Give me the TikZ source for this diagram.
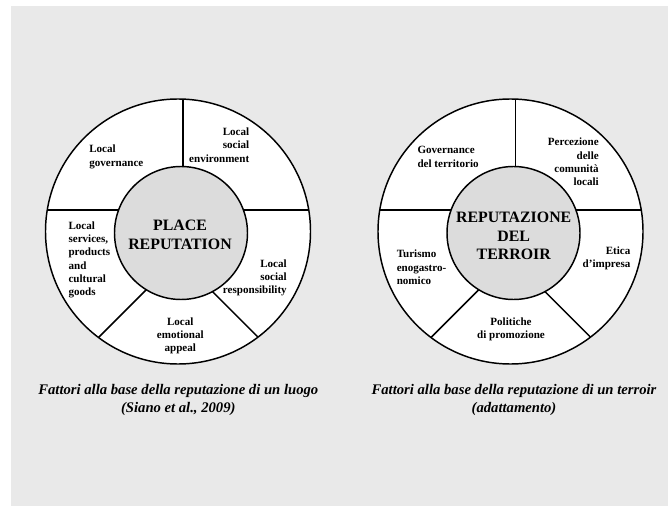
\documentclass[tikz,border=0pt]{standalone}
\usepackage{fontspec}
\setmainfont{Liberation Serif}
\definecolor{bggray}{HTML}{E9E9E9}
\definecolor{hubgray}{HTML}{DCDCDC}
\begin{document}
\begin{tikzpicture}[x=0.75pt,y=-0.75pt,
  ring/.style={draw=black,line width=1.1pt},
  small/.style={font=\fontsize{8.3}{10}\selectfont\bfseries,inner sep=0pt},
  hub/.style={font=\fontsize{11.9}{14}\selectfont\bfseries,inner sep=0pt,align=center},
  caption/.style={font=\fontsize{11}{13}\selectfont\bfseries\itshape,inner sep=0pt,align=center}]
\useasboundingbox (0,0) rectangle (668,506);
\fill[white] (0,0) rectangle (668,506);
\fill[bggray] (11,6) rectangle (668,506);
% ---------- wheels ----------
\foreach \cx in {178,510.5}{
\begin{scope}[shift={(\cx,0)}]
  \filldraw[ring,fill=white] (0,231.5) circle (132.5);
  \filldraw[ring,fill=hubgray] (3,233) circle (66.5);
  \draw[ring] (5,99.1) -- (5,166.5);
  \draw[ring] (-130.7,210) -- (-59.4,210);
  \draw[ring] (65.4,210) -- (130.7,210);
  \draw[ring] (-31.7,289.7) -- (-79.5,337.5);
  \draw[ring] (34.4,291.6) -- (80,337.2);
\end{scope}}
% ---------- left wheel texts ----------
\node[small,anchor=west,align=left] (lgov) at (89,157) {Local\\governance};
\node[small,anchor=east,align=right] (lsoc) at (249.5,145) {Local\\social\\environment};
\node[small,anchor=west,align=left] (lserv) at (68.3,260) {Local\\services,\\products\\and\\cultural\\goods};
\node[small,anchor=east,align=right] (lresp) at (287,278) {Local\\social\\responsibility};
\node[small,align=center] (lemo) at (180.3,336) {Local\\emotional\\appeal};
\node[hub] (lhub) at (180,235) {PLACE\\REPUTATION};
\node[caption] (lcap) at (178.3,400) {Fattori alla base della reputazione di un luogo\\(Siano et al., 2009)};
% ---------- right wheel texts ----------
\node[small,anchor=west,align=left] (rgov) at (417.3,157) {Governance\\del territorio};
\node[small,anchor=east,align=right] (rperc) at (599,162) {Percezione\\delle\\comunità\\locali};
\node[small,anchor=west,align=left] (rtur) at (396.5,267.3) {Turismo\\enogastro-\\nomico};
\node[small,anchor=east,align=right] (reti) at (630.7,258.3) {Etica\\d’impresa};
\node[small,align=center] (rpol) at (511,329.5) {Politiche\\di promozione};
\node[hub] (rhub) at (513.7,236) {REPUTAZIONE\\DEL\\TERROIR};
\node[caption] (rcap) at (514,400) {Fattori alla base della reputazione di un terroir\\(adattamento)};
\end{tikzpicture}
\end{document}
